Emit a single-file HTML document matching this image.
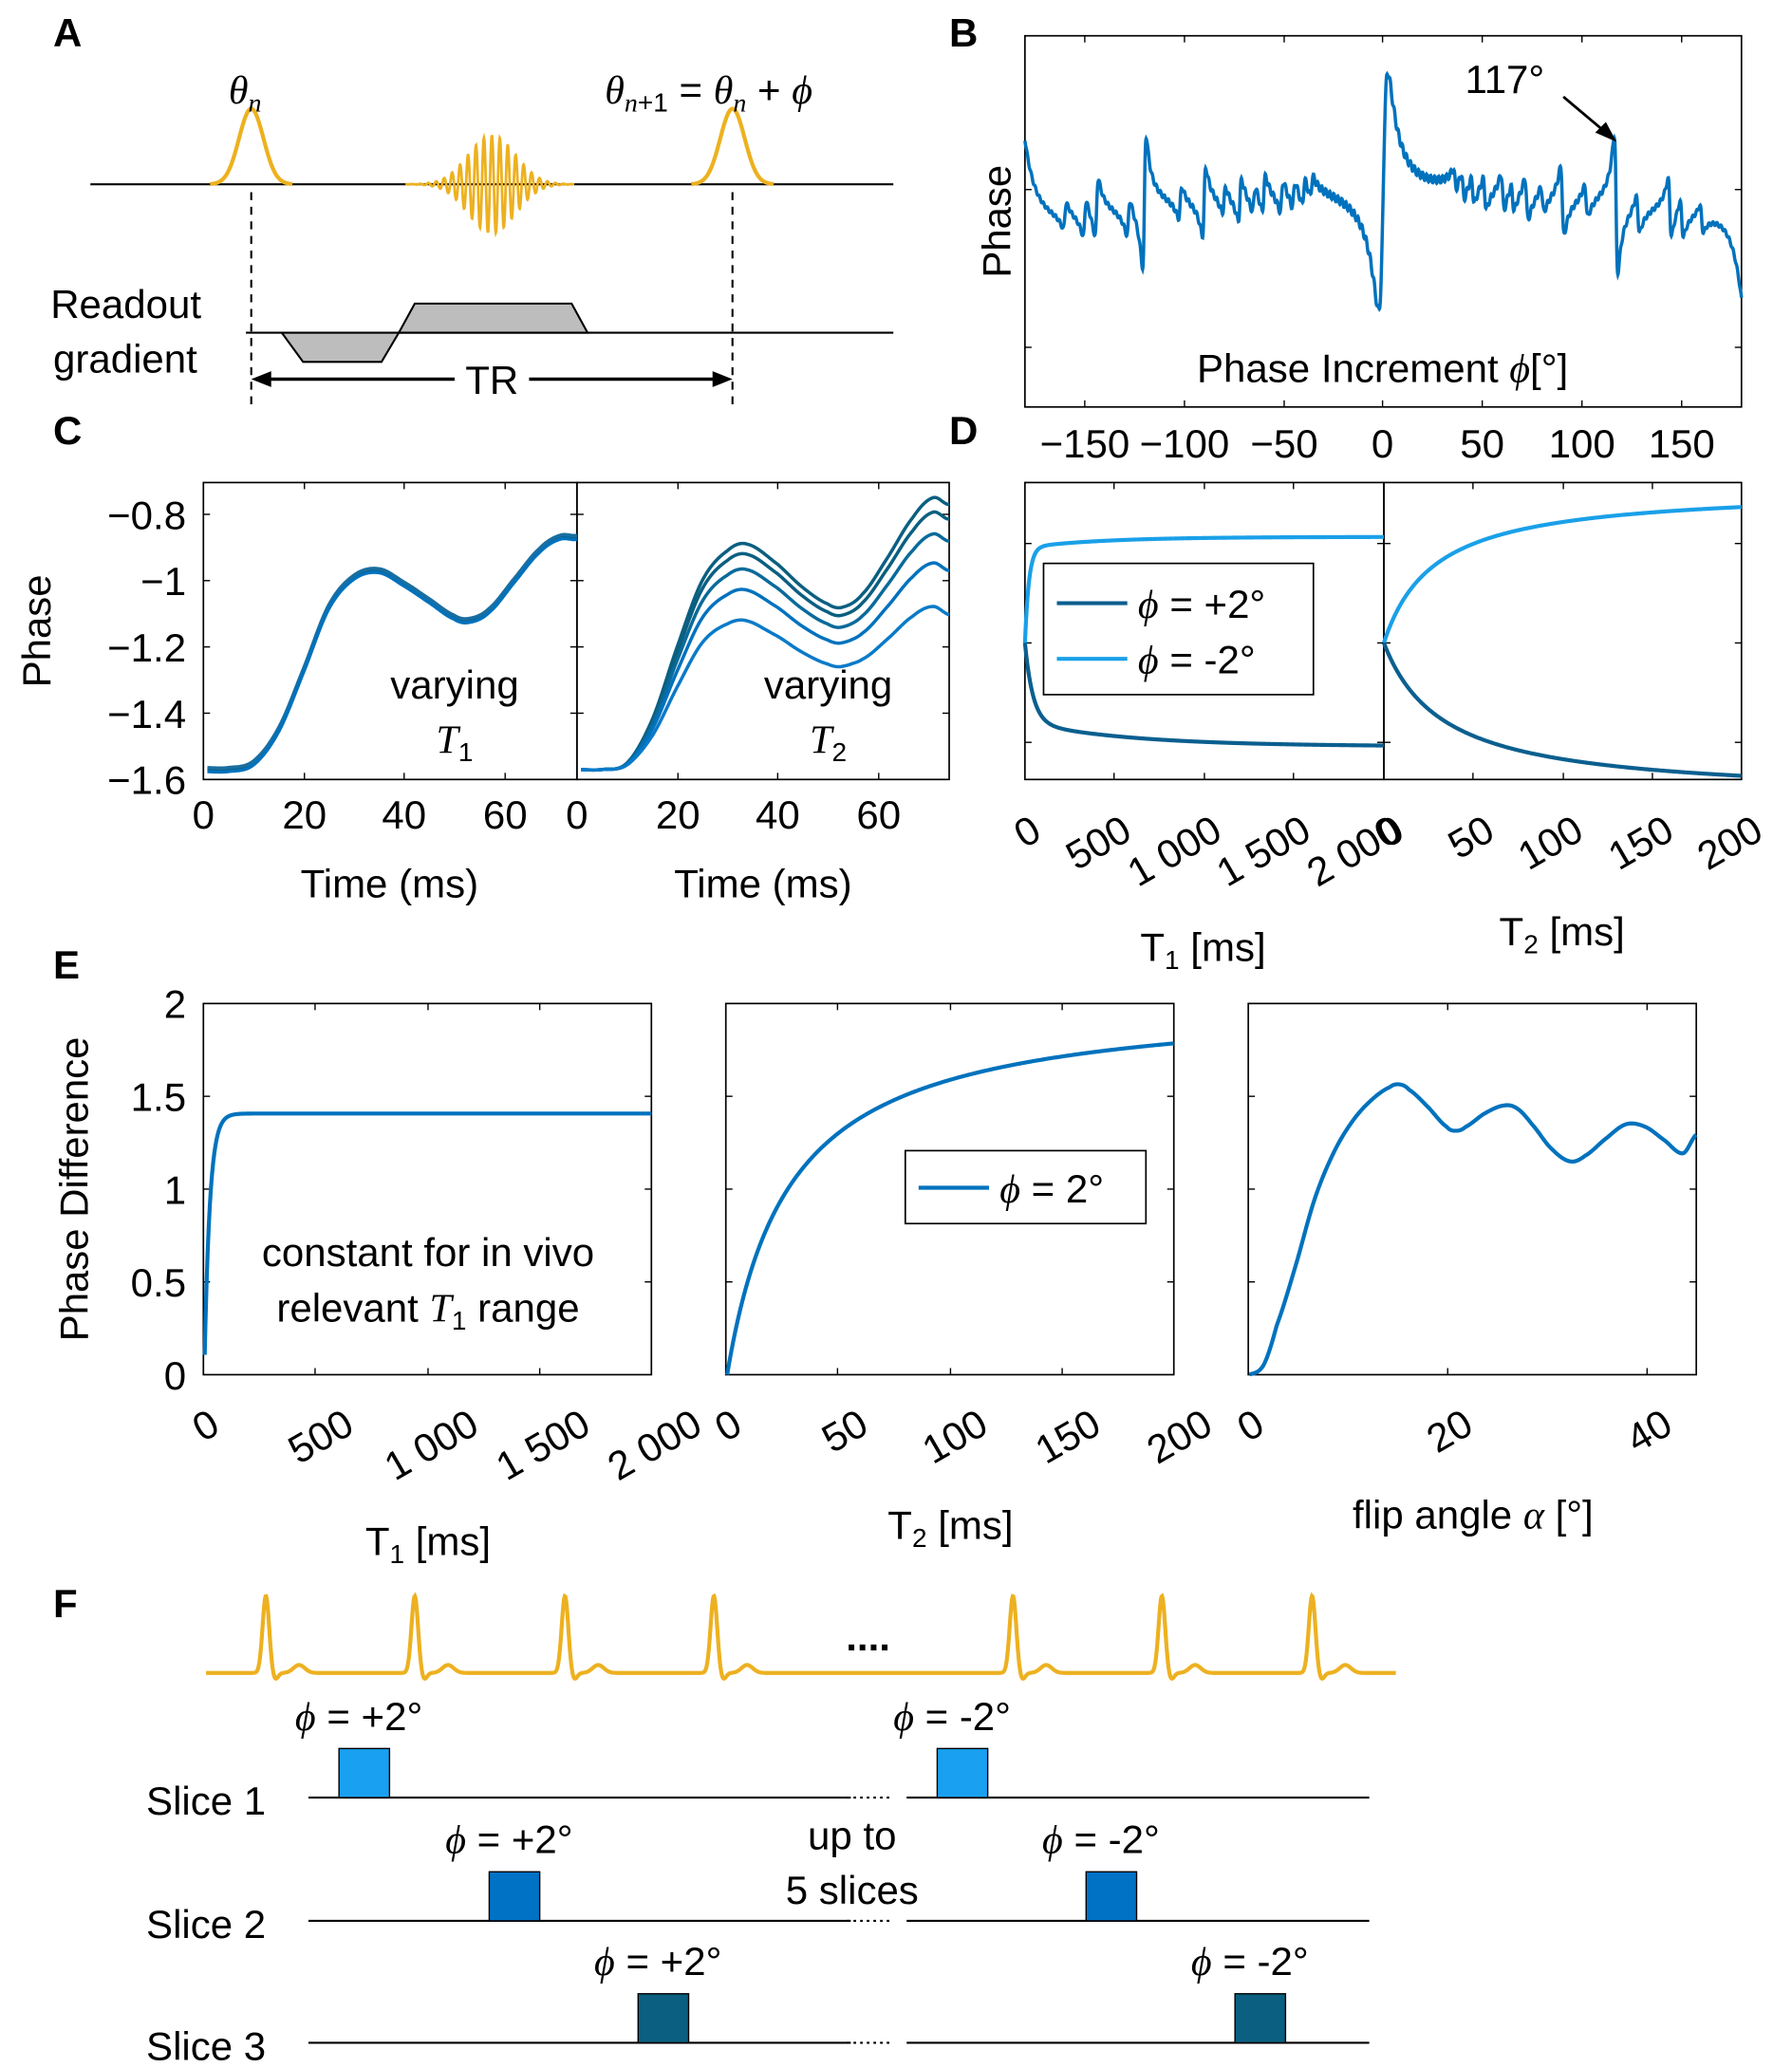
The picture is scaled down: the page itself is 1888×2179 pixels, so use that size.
<!DOCTYPE html>
<html><head><meta charset="utf-8"><style>
html,body{margin:0;padding:0;background:#fff}
svg{display:block}
text{font-family:"Liberation Sans",sans-serif;fill:#000}
.t{font-size:30px}
.b{font-size:30px;font-weight:bold}
.i{font-family:"Liberation Serif",serif;font-style:italic}
</style></head><body>
<svg id="s" width="1888" height="2179" viewBox="0 0 1348 1560" preserveAspectRatio="none" xmlns="http://www.w3.org/2000/svg">
<rect width="1348" height="1560" fill="#fff"/>
<text class="b" x="40" y="35">A</text>
<text class="b" x="714" y="35">B</text>
<text class="b" x="40" y="335">C</text>
<text class="b" x="714" y="335">D</text>
<text class="b" x="40" y="738">E</text>
<text class="b" x="40" y="1220">F</text>

<line x1="68" y1="139" x2="672" y2="139" stroke="#000" stroke-width="1.5"/>
<g id="pa" fill="none" stroke="#edb120" stroke-width="3"></g>
<line x1="189" y1="145" x2="189" y2="305" stroke="#000" stroke-dasharray="6,5" stroke-width="1.5"/>
<line x1="551" y1="145" x2="551" y2="305" stroke="#000" stroke-dasharray="6,5" stroke-width="1.5"/>
<line x1="185" y1="251" x2="672" y2="251" stroke="#000" stroke-width="1.5"/>
<polygon points="212,251 228,273 287,273 300,251" fill="#bdbdbd" stroke="#000" stroke-width="1.5"/>
<polygon points="300,251 312,229 430,229 442,251" fill="#bdbdbd" stroke="#000" stroke-width="1.5"/>
<line x1="200" y1="286" x2="342" y2="286" stroke="#000" stroke-width="2.5"/>
<line x1="398" y1="286" x2="540" y2="286" stroke="#000" stroke-width="2.5"/>
<polygon points="189,286 204,280 204,292" fill="#000"/>
<polygon points="551,286 536,280 536,292" fill="#000"/>
<text class="t" x="370" y="297" text-anchor="middle">TR</text>
<text class="t" x="38" y="240">Readout</text>
<text class="t" x="40" y="281">gradient</text>
<text class="t" x="172" y="78"><tspan class="i">θ</tspan><tspan class="i" font-size="20" dy="6">n</tspan></text>
<text class="t" x="455" y="78"><tspan class="i">θ</tspan><tspan class="i" font-size="20" dy="6">n</tspan><tspan font-size="20">+1</tspan><tspan dy="-6"> = </tspan><tspan class="i">θ</tspan><tspan class="i" font-size="20" dy="6">n</tspan><tspan dy="-6"> + </tspan><tspan class="i">ϕ</tspan></text>

<rect x="771" y="27" width="539" height="280" fill="none" stroke="#000" stroke-width="1.2"/>
<g id="bt" stroke="#000" stroke-width="1"></g>
<path id="pb" fill="none" stroke="#0072bd" stroke-width="2.5"/>
<text class="t" transform="translate(760,167) rotate(-90)" text-anchor="middle">Phase</text>
<text class="t" x="1040" y="288" text-anchor="middle">Phase Increment <tspan class="i">ϕ</tspan>[°]</text>
<text class="t" x="1102" y="70">117°</text>
<line x1="1176" y1="73" x2="1208" y2="100" stroke="#000" stroke-width="2"/>
<polygon points="1216,107 1200,100 1208,92" fill="#000"/>
<g text-anchor="middle">
<text class="t" x="816" y="345">−150</text><text class="t" x="891" y="345">−100</text><text class="t" x="966" y="345">−50</text><text class="t" x="1040" y="345">0</text><text class="t" x="1115" y="345">50</text><text class="t" x="1190" y="345">100</text><text class="t" x="1265" y="345">150</text>
</g>

<rect x="153" y="364" width="281" height="224" fill="none" stroke="#000" stroke-width="1.2"/>
<rect x="434" y="364" width="280" height="224" fill="none" stroke="#000" stroke-width="1.2"/>
<g id="ct" stroke="#000" stroke-width="1"></g>
<g id="pc" fill="none" stroke-width="2.5"></g>
<g text-anchor="end">
<text class="t" x="140" y="399">−0.8</text><text class="t" x="140" y="449">−1</text><text class="t" x="140" y="499">−1.2</text><text class="t" x="140" y="549">−1.4</text><text class="t" x="140" y="599">−1.6</text>
</g>
<text class="t" transform="translate(38,476) rotate(-90)" text-anchor="middle">Phase</text>
<g text-anchor="middle">
<text class="t" x="153" y="625">0</text><text class="t" x="229" y="625">20</text><text class="t" x="304" y="625">40</text><text class="t" x="380" y="625">60</text>
<text class="t" x="434" y="625">0</text><text class="t" x="510" y="625">20</text><text class="t" x="585" y="625">40</text><text class="t" x="661" y="625">60</text>
<text class="t" x="293" y="677">Time (ms)</text><text class="t" x="574" y="677">Time (ms)</text>
<text class="t" x="342" y="527">varying</text><text class="t" x="342" y="568"><tspan class="i">T</tspan><tspan font-size="20" dy="6">1</tspan></text>
<text class="t" x="623" y="527">varying</text><text class="t" x="623" y="568"><tspan class="i">T</tspan><tspan font-size="20" dy="6">2</tspan></text>
</g>

<rect x="771" y="364" width="270" height="224" fill="none" stroke="#000" stroke-width="1.2"/>
<rect x="1041" y="364" width="269" height="224" fill="none" stroke="#000" stroke-width="1.2"/>
<g id="dt" stroke="#000" stroke-width="1"></g>
<g id="pd" fill="none" stroke-width="3"></g>
<rect x="785" y="425" width="203" height="99" fill="#fff" stroke="#000" stroke-width="1.2"/>
<line x1="795" y1="455" x2="848" y2="455" stroke="#0b5f8f" stroke-width="3"/>
<line x1="795" y1="497" x2="848" y2="497" stroke="#1aa0e8" stroke-width="3"/>
<text class="t" x="856" y="466"><tspan class="i">ϕ</tspan> = +2°</text>
<text class="t" x="856" y="508"><tspan class="i">ϕ</tspan> = -2°</text>
<g id="dl"></g>
<text class="t" x="905" y="725" text-anchor="middle">T<tspan font-size="20" dy="6">1</tspan><tspan dy="-6"> [ms]</tspan></text>
<text class="t" x="1175" y="713" text-anchor="middle">T<tspan font-size="20" dy="6">2</tspan><tspan dy="-6"> [ms]</tspan></text>

<rect x="153" y="757" width="337" height="280" fill="none" stroke="#000" stroke-width="1.2"/>
<rect x="546" y="757" width="337" height="280" fill="none" stroke="#000" stroke-width="1.2"/>
<rect x="939" y="757" width="337" height="280" fill="none" stroke="#000" stroke-width="1.2"/>
<g id="et" stroke="#000" stroke-width="1"></g>
<g id="pe" fill="none" stroke="#0072bd" stroke-width="3"></g>
<g text-anchor="end">
<text class="t" x="140" y="768">2</text><text class="t" x="140" y="838">1.5</text><text class="t" x="140" y="908">1</text><text class="t" x="140" y="978">0.5</text><text class="t" x="140" y="1048">0</text>
</g>
<text class="t" transform="translate(66,897) rotate(-90)" text-anchor="middle">Phase Difference</text>
<text class="t" x="322" y="955" text-anchor="middle">constant for in vivo</text>
<text class="t" x="322" y="997" text-anchor="middle">relevant <tspan class="i">T</tspan><tspan font-size="20" dy="6">1</tspan><tspan dy="-6"> range</tspan></text>
<rect x="681" y="868" width="181" height="55" fill="#fff" stroke="#000" stroke-width="1.2"/>
<line x1="691" y1="896" x2="744" y2="896" stroke="#0072bd" stroke-width="3"/>
<text class="t" x="752" y="907"><tspan class="i">ϕ</tspan> = 2°</text>
<g id="el"></g>
<text class="t" x="322" y="1173" text-anchor="middle">T<tspan font-size="20" dy="6">1</tspan><tspan dy="-6"> [ms]</tspan></text>
<text class="t" x="715" y="1161" text-anchor="middle">T<tspan font-size="20" dy="6">2</tspan><tspan dy="-6"> [ms]</tspan></text>
<text class="t" x="1108" y="1153" text-anchor="middle">flip angle <tspan class="i">α</tspan> [°]</text>

<path id="ecg" fill="none" stroke="#edb120" stroke-width="3"/>
<text class="b" x="653" y="1245" text-anchor="middle">....</text>
<g stroke="#000" stroke-width="1.5">
<line x1="232" y1="1356" x2="640" y2="1356"/><line x1="682" y1="1356" x2="1030" y2="1356"/>
<line x1="232" y1="1449" x2="640" y2="1449"/><line x1="682" y1="1449" x2="1030" y2="1449"/>
<line x1="232" y1="1541" x2="640" y2="1541"/><line x1="682" y1="1541" x2="1030" y2="1541"/>
</g>
<g stroke="#000" stroke-width="1.5" stroke-dasharray="2,3">
<line x1="637" y1="1356" x2="672" y2="1356"/><line x1="637" y1="1449" x2="672" y2="1449"/><line x1="637" y1="1541" x2="672" y2="1541"/>
</g>
<g stroke="#000" stroke-width="1">
<rect x="255" y="1319" width="38" height="37" fill="#1aa0f0"/><rect x="705" y="1319" width="38" height="37" fill="#1aa0f0"/>
<rect x="368" y="1412" width="38" height="37" fill="#0072c6"/><rect x="817" y="1412" width="38" height="37" fill="#0072c6"/>
<rect x="480" y="1504" width="38" height="37" fill="#0b5f80"/><rect x="929" y="1504" width="38" height="37" fill="#0b5f80"/>
</g>
<text class="t" x="110" y="1369">Slice 1</text>
<text class="t" x="110" y="1462">Slice 2</text>
<text class="t" x="110" y="1554">Slice 3</text>
<text class="t" x="222" y="1305"><tspan class="i">ϕ</tspan> = +2°</text>
<text class="t" x="672" y="1305"><tspan class="i">ϕ</tspan> = -2°</text>
<text class="t" x="335" y="1398"><tspan class="i">ϕ</tspan> = +2°</text>
<text class="t" x="784" y="1398"><tspan class="i">ϕ</tspan> = -2°</text>
<text class="t" x="447" y="1490"><tspan class="i">ϕ</tspan> = +2°</text>
<text class="t" x="896" y="1490"><tspan class="i">ϕ</tspan> = -2°</text>
<text class="t" x="641" y="1395" text-anchor="middle">up to</text>
<text class="t" x="641" y="1436" text-anchor="middle">5 slices</text>
</svg>
<script>
const NS="http://www.w3.org/2000/svg";
function el(p,tag,a){const e=document.createElementNS(NS,tag);for(const k in a)e.setAttribute(k,a[k]);document.getElementById(p).appendChild(e);return e;}
function poly(f,x0,x1,n){let d="";for(let i=0;i<=n;i++){const x=x0+(x1-x0)*i/n;const y=f(x);d+=(i?"L":"M")+x.toFixed(2)+" "+y.toFixed(2);}return d;}
function interp(pts){return function(x){if(x<=pts[0][0])return pts[0][1];for(let i=0;i<pts.length-1;i++){if(x<=pts[i+1][0]){const p0=pts[Math.max(i-1,0)],p1=pts[i],p2=pts[i+1],p3=pts[Math.min(i+2,pts.length-1)];const t=(x-p1[0])/(p2[0]-p1[0]);const t2=t*t,t3=t2*t;return 0.5*((2*p1[1])+(-p0[1]+p2[1])*t+(2*p0[1]-5*p1[1]+4*p2[1]-p3[1])*t2+(-p0[1]+3*p1[1]-3*p2[1]+p3[1])*t3);}}return pts[pts.length-1][1];};}
function gauss(c,w){return x=>139-57*Math.exp(-Math.pow((x-c)/w,2));}
el("pa","path",{d:poly(gauss(189,13),158,220,80)});
el("pa","path",{d:poly(gauss(551,13),520,582,80)});
el("pa","path",{d:poly(x=>139-37*Math.exp(-Math.pow((x-370)/25,2))*Math.cos((x-370)*1.05),305,432,600),"stroke-width":2});
function ticksX(g,xs,y0,y1,len){xs.forEach(x=>{el(g,"line",{x1:x,y1:y0,x2:x,y2:y0-len});el(g,"line",{x1:x,y1:y1,x2:x,y2:y1+len});});}
function ticksY(g,ys,x0,x1,len){ys.forEach(y=>{el(g,"line",{x1:x0,y1:y,x2:x0+len,y2:y});el(g,"line",{x1:x1,y1:y,x2:x1-len,y2:y});});}
ticksX("bt",[816,891,966,1040,1115,1190,1265],307,27,5);ticksY("bt",[143,262],771,1310,5);
function g(d,w){return d*w/(d*d+w*w);}
const spikes=[[-160,10],[-150,14],[-144,22],[-128,14],[-120,50],[-102,12],[-90,26],[-80,10],[-72,16],[-65,10],[-60,14],[-51,12],[-45,10],[-40,10],[-36,8],[36,8],[40,10],[45,10],[51,12],[60,14],[65,10],[72,16],[80,10],[90,26],[102,12],[117,52],[128,14],[144,22],[150,14],[160,10]];
function fb2(x){const d=(x-1040.5)/1.497;let y=155-200*g(d,2.6)*Math.exp(-Math.abs(d)/22);
 y+= -55*Math.exp(-(d+180)/5)+ 65*Math.exp(-(180-d)/5);
 for(const s of spikes){y+= 2*s[1]*g(d-s[0],0.9)*(s[0]<0?-1:1);}
 y+=3*Math.sin(d*3.1)*Math.exp(-Math.abs(d)/200);
 return Math.max(30,Math.min(300,y));}
document.getElementById("pb").setAttribute("d",poly(fb2,771,1310,2400));
ticksX("ct",[229,304,380],588,364,5);ticksX("ct",[510,585,661],588,364,5);
ticksY("ct",[388,438,488,538],153,434,5);ticksY("ct",[388,438,488,538],434,714,5);
function vy(v){return 388+(-0.8-v)*250;}
const base=[[0,-1.57],[5,-1.57],[10,-1.55],[15,-1.45],[20,-1.27],[25,-1.08],[30,-0.99],[35,-0.97],[40,-1.01],[45,-1.06],[50,-1.11],[53,-1.12],[57,-1.09],[62,-1.0],[67,-0.91],[71,-0.87],[74,-0.87]];
const fc=interp(base);
[["#0b5f80",0],["#1a6ea0",0.006],["#0072bd",-0.006]].forEach(c=>el("pc","path",{d:poly(x=>vy(fc((x-153)/3.77)+c[1]),156,434,300),stroke:c[0]}));
const b2=[[0,-1.57],[5,-1.57],[10,-1.55],[15,-1.42],[20,-1.2],[25,-1.0],[30,-0.91],[34,-0.89],[40,-0.95],[45,-1.02],[50,-1.07],[53,-1.08],[57,-1.04],[62,-0.93],[67,-0.81],[71,-0.75],[74,-0.77]];
const f2=interp(b2);
[[1.0,"#0b5f80"],[0.96,"#0b5f80"],[0.9,"#0a6a9a"],[0.82,"#0072bd"],[0.7,"#0a7ac8"]].forEach(c=>{const k=c[0];el("pc","path",{d:poly(x=>{const t=(x-434)/3.77;const v=f2(t);const lag=(1-k)*0.35*Math.max(0,Math.min(1,(t-12)/25));return vy(-1.57+(v+1.57)*k - lag*0.3+ (t>55?-(1-k)*0.2*(t-55)/19:0));},437,714,300),stroke:c[1]});});
ticksX("dt",[838,906,973],588,364,5);ticksX("dt",[1108,1176,1243],588,364,5);
ticksY("dt",[410,485,560],771,1041,5);ticksY("dt",[410,485,560],1041,1310,5);
el("pd","path",{d:poly(x=>{const t=x-771;return 485-72*(1-Math.exp(-t/3))-8*(1-Math.exp(-t/60));},771,1041,400),stroke:"#1aa0e8"});
el("pd","path",{d:poly(x=>{const t=x-771;return 485+60*(1-Math.exp(-t/6))+18*(1-Math.exp(-t/80));},771,1041,400),stroke:"#0b5f8f"});
el("pd","path",{d:poly(x=>{const t=x-1041;return 485-117*t/(t+38);},1041,1310,300),stroke:"#1aa0e8"});
el("pd","path",{d:poly(x=>{const t=x-1041;return 485+117*t/(t+45);},1041,1310,300),stroke:"#0b5f8f"});
function rl(g,x,y,s){const t=el(g,"text",{x:x,y:y,"class":"t","text-anchor":"end",transform:"rotate(-30 "+x+" "+y+")"});t.textContent=s;}
[[785,"0"],[853,"500"],[921,"1 000"],[988,"1 500"],[1056,"2 000"],[1058,"0"],[1126,"50"],[1193,"100"],[1261,"150"],[1328,"200"]].forEach(p=>rl("dl",p[0],632,p[1]));
[[153,490],[546,883],[939,1276]].forEach(b=>ticksY("et",[827,897,967],b[0],b[1],5));
ticksX("et",[237,322,406],1037,757,5);ticksX("et",[630,715,799],1037,757,5);ticksX("et",[1089,1239],1037,757,5);
el("pe","path",{d:"M154 1022 "+poly(x=>{const t=x-154.5;return 840+(1000-840)*Math.exp(-t/4);},154.5,490,400).replace(/^M/,"L")});
el("pe","path",{d:poly(x=>{const t=(x-547)/1.685;return 1037-285*t/(t+28);},547,883,300)});
const fa=interp([[0,1037],[8,1030],[15,1000],[25,955],[35,905],[45,870],[55,846],[65,830],[75,820],[80,818],[85,822],[95,835],[105,850],[110,853],[115,850],[125,840],[135,834],[142,836],[150,848],[160,866],[170,876],[178,872],[190,858],[200,848],[210,850],[220,860],[230,870],[237,856]]);
el("pe","path",{d:poly(x=>fa((x-939)*237/337),940,1276,400)});
[[167,"0"],[268,"500"],[362,"1 000"],[446,"1 500"],[530,"2 000"],[560,"0"],[655,"50"],[745,"100"],[830,"150"],[914,"200"],[953,"0"],[1110,"20"],[1260,"40"]].forEach(p=>rl("el",p[0],1080,p[1]));
const peaks=[200,312,425,537,762,874,987];
function fecg(x){let y=1262;for(const p of peaks){y-=58*Math.exp(-Math.pow((x-p)/3.5,2));y+=5*Math.exp(-Math.pow((x-p-7)/3,2));y-=6*Math.exp(-Math.pow((x-p-25)/6,2));}return y;}
document.getElementById("ecg").setAttribute("d",poly(fecg,155,1050,2000));
</script>
</body></html>
